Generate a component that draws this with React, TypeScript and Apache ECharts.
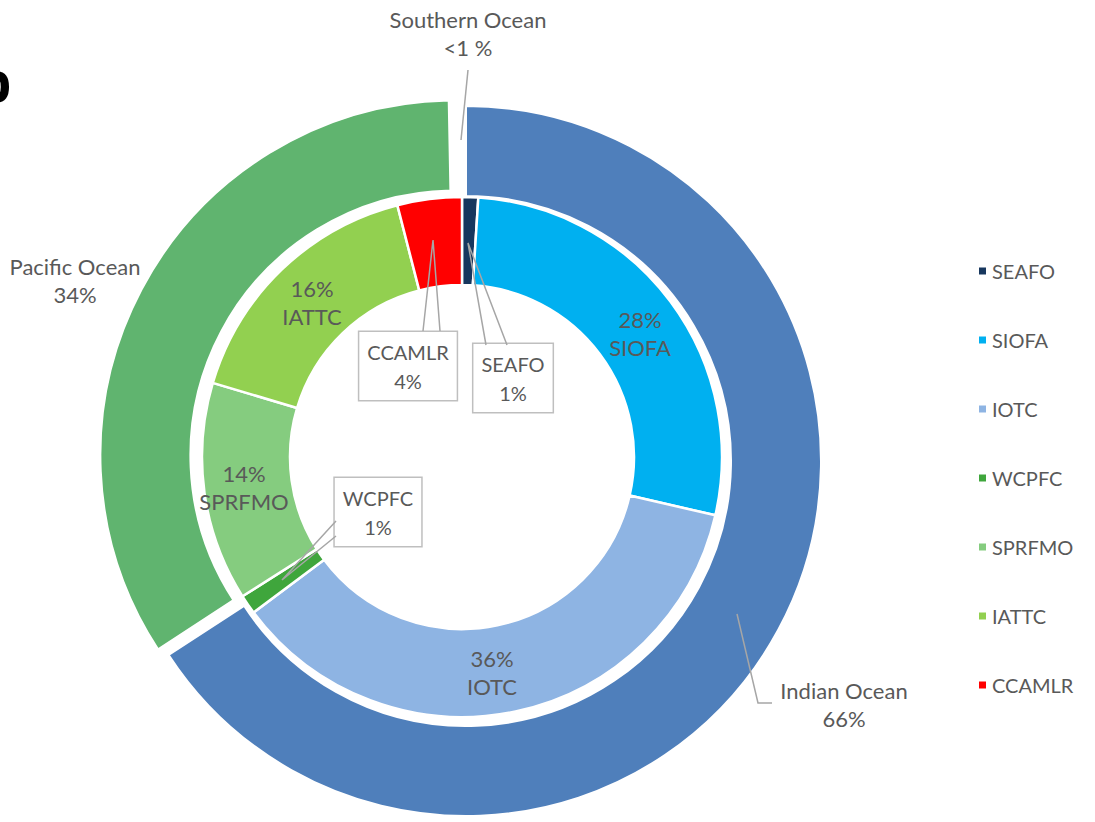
import React, { useEffect, useRef } from "react";
import * as echarts from "echarts";

// ---- Data ----
const oceanNames = ["Indian Ocean", "Pacific Ocean", "Southern Ocean"];
const oceanValues = [65.8, 33.9, 0.3];
const oceanColors = ["#4F7FBB", "#60B46F", "rgba(0,0,0,0)"];
const explodedOcean = "Pacific Ocean";

const rfmoNames = ["SEAFO", "SIOFA", "IOTC", "WCPFC", "SPRFMO", "IATTC", "CCAMLR"];
const rfmoValues = [1.0, 27.6, 36.2, 1.2, 13.6, 16.4, 4.0];
const rfmoColors = ["#17375E", "#00B0F0", "#8EB4E3", "#3FA63C", "#85CC7F", "#92D050", "#FF0000"];
const rfmoCallout = [true, false, false, true, false, false, true];

// ---- Label placement (annotation layout only) ----
const outerLabelPos: any[] = [
  { x: 844, y: 704 },
  { x: 75, y: 280 },
  { x: 468, y: 33 },
];
const innerLabelPos: any[] = [
  { x: 513, y: 378 },
  { x: 640, y: 333 },
  { x: 492, y: 672 },
  { x: 378, y: 512 },
  { x: 244, y: 487 },
  { x: 312, y: 302 },
  { x: 408, y: 366 },
];
const leaderLines: number[][][] = [
  [[737, 614], [758, 703], [772, 703]],
  [[461, 140], [468, 70]],
  [[486, 345], [468, 243], [507, 345]],
  [[336, 521], [282, 580], [336, 536]],
  [[423, 331], [433, 240], [440, 331]],
];

const FONT = "Lato";
const TXT = "#595959";
const FS = 22;
const FS_SMALL = 20;
const TRANSPARENT = "rgba(0,0,0,0)";

function pct(v: number) {
  return v < 1 ? "<1 %" : Math.round(v) + "%";
}

export default function App() {
  const ref = useRef<HTMLDivElement>(null);
  useEffect(() => {
    if (!ref.current) return;
    const chart = echarts.init(ref.current, null, { renderer: "svg" });

    // Base ring: all oceans except the exploded one (drawn by a second series), plus all labels.
    const outerData = oceanNames.map((n, i) => {
      const hidden = n === explodedOcean || oceanColors[i] === TRANSPARENT;
      return {
        name: n,
        value: oceanValues[i],
        itemStyle: {
          color: n === explodedOcean ? TRANSPARENT : oceanColors[i],
          borderColor: hidden ? TRANSPARENT : "#fff",
          borderWidth: hidden ? 0 : 2,
        },
      };
    });
    // Exploded ring: only the exploded ocean is painted, offset via selection.
    const explodedData = oceanNames.map((n, i) => {
      const show = n === explodedOcean;
      return {
        name: n,
        value: oceanValues[i],
        selected: show,
        itemStyle: {
          color: show ? oceanColors[i] : TRANSPARENT,
          borderColor: show ? "#fff" : TRANSPARENT,
          borderWidth: show ? 2 : 0,
        },
      };
    });

    const innerData = rfmoNames.map((n, i) => {
      const callout = rfmoCallout[i];
      return {
        name: n,
        value: rfmoValues[i],
        itemStyle: { color: rfmoColors[i] },
        label: callout
          ? {
              position: "outside",
              fontSize: FS_SMALL,
              lineHeight: 29,
              backgroundColor: "#fff",
              borderColor: "#BFBFBF",
              borderWidth: 1.5,
              padding: [5, 8, 5, 8],
              formatter: (p: any) => `${p.name}\n${pct(p.value)}`,
            }
          : {
              position: "inside",
              formatter: (p: any) => `${pct(p.value)}\n${p.name}`,
            },
      };
    });

    const layoutFn = (positions: any[]) => (p: any) => {
      const pos = positions[p.dataIndex];
      return { x: pos.x, y: pos.y, align: "center", verticalAlign: "middle" };
    };

    chart.setOption({
      animation: false,
      legend: {
        orient: "vertical",
        left: 972,
        top: 254,
        data: rfmoNames,
        icon: "rect",
        itemWidth: 9,
        itemHeight: 9,
        itemGap: 45,
        selectedMode: false,
        textStyle: { fontFamily: FONT, fontSize: FS_SMALL, color: TXT, lineHeight: 24 },
      },
      graphic: [
        {
          type: "text",
          left: -24,
          top: 52,
          style: {
            text: "b",
            fontSize: 58,
            fontWeight: "bold",
            fontFamily: "Liberation Sans",
            fill: "#000",
          },
        },
        ...leaderLines.map((pts) => ({
          type: "polyline",
          z: 100,
          shape: { points: pts },
          style: { stroke: "#A6A6A6", lineWidth: 1.5, fill: null },
        })),
      ],
      series: [
        {
          name: "Oceans",
          type: "pie",
          center: [466, 461],
          radius: [265, 355],
          startAngle: 90,
          clockwise: true,
          avoidLabelOverlap: false,
          selectedMode: false,
          emphasis: { scale: false, disabled: true },
          label: {
            show: true,
            position: "outside",
            fontFamily: FONT,
            fontSize: FS,
            color: TXT,
            lineHeight: 28,
            formatter: (p: any) => `${p.name}\n${pct(p.value)}`,
          },
          labelLine: { show: false },
          labelLayout: layoutFn(outerLabelPos),
          data: outerData,
        },
        {
          name: "Oceans exploded",
          type: "pie",
          center: [466, 461],
          radius: [265, 355],
          startAngle: 90,
          clockwise: true,
          selectedMode: "single",
          selectedOffset: 12,
          emphasis: { scale: false, disabled: true },
          select: { itemStyle: { borderColor: "#fff", borderWidth: 2 } },
          label: { show: false },
          labelLine: { show: false },
          data: explodedData,
        },
        {
          name: "RFMOs",
          type: "pie",
          center: [462, 457],
          radius: [172, 260],
          startAngle: 90,
          clockwise: true,
          avoidLabelOverlap: false,
          emphasis: { scale: false, disabled: true },
          itemStyle: { borderColor: "#fff", borderWidth: 2.5 },
          label: {
            show: true,
            fontFamily: FONT,
            fontSize: FS,
            color: TXT,
            lineHeight: 28,
          },
          labelLine: { show: false },
          labelLayout: layoutFn(innerLabelPos),
          data: innerData,
        },
      ],
    });
    return () => chart.dispose();
  }, []);

  return (
    <div
      ref={ref}
      style={{ position: "fixed", left: 0, top: 0, width: 1095, height: 822, background: "#fff" }}
    />
  );
}
